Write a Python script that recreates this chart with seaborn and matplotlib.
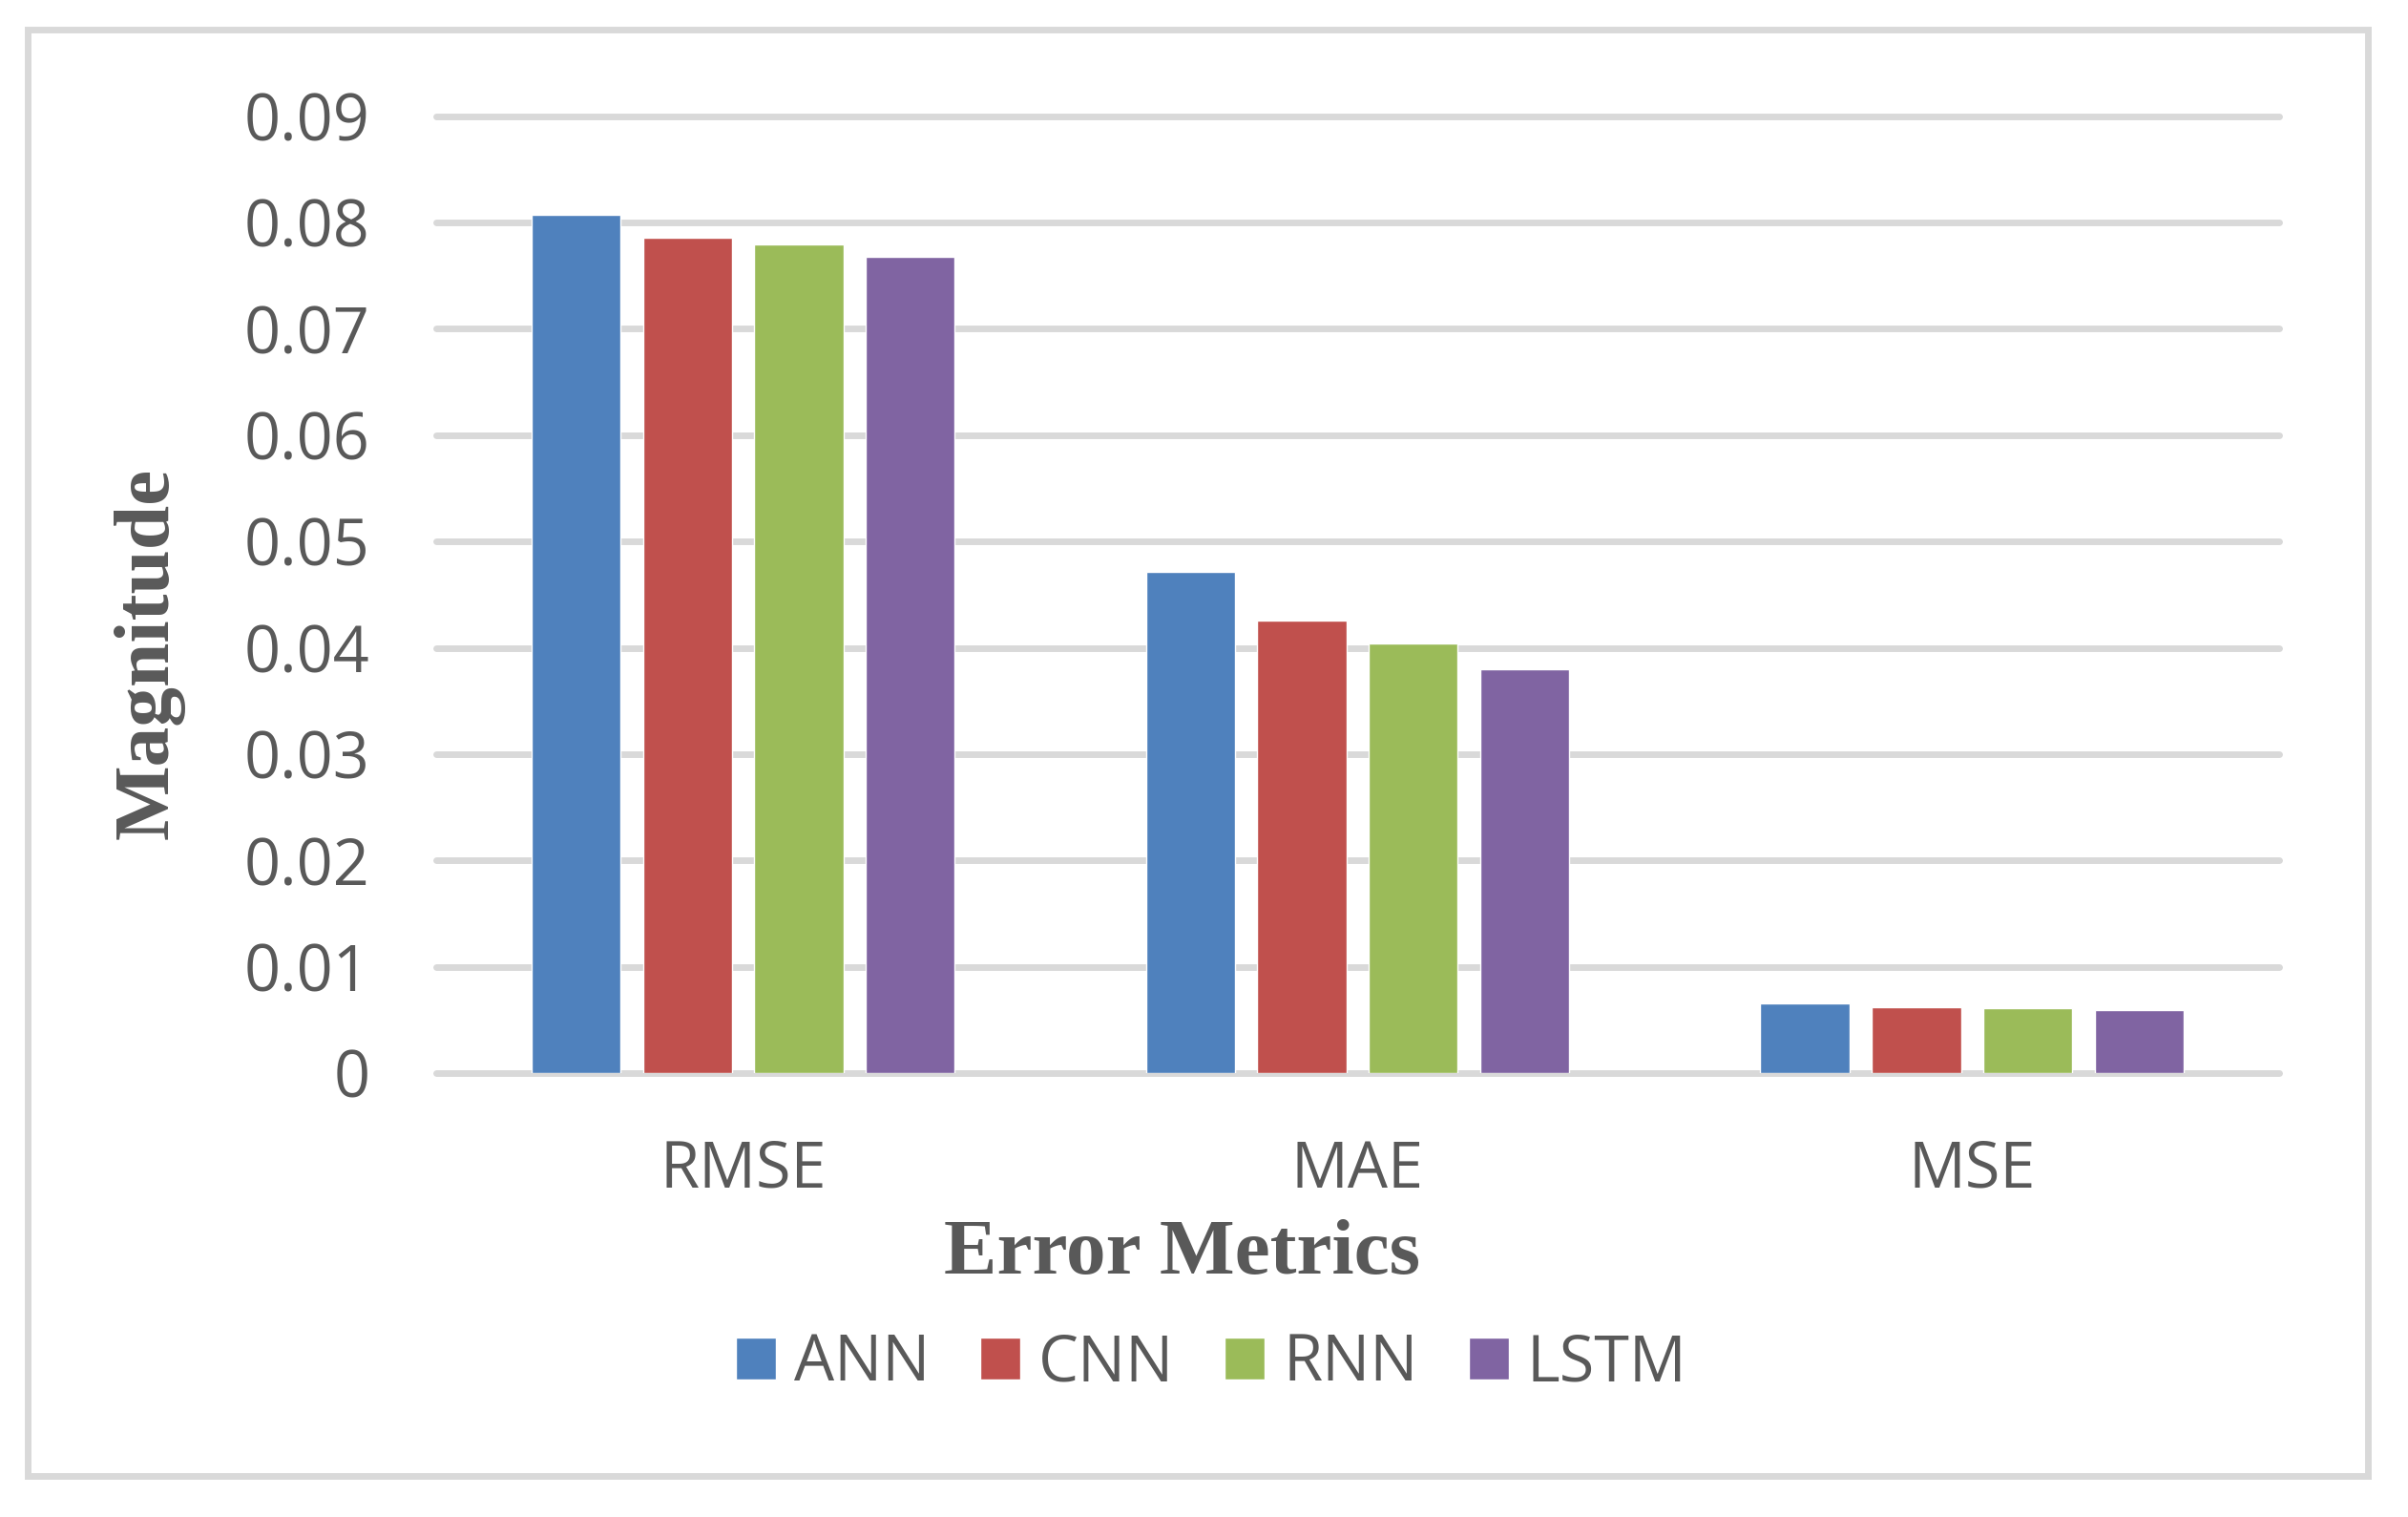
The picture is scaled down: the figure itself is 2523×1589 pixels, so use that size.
#### Error metrics bar chart ####
import pandas as pd
import numpy as np
import matplotlib.pyplot as plt
from matplotlib.patches import FancyBboxPatch
import seaborn as sns

# Data
metrics = ['RMSE', 'MAE', 'MSE']
models = ['ANN', 'CNN', 'RNN', 'LSTM']
ann = [0.0807, 0.0471, 0.0066]
cnn = [0.0786, 0.0426, 0.0062]
rnn = [0.0779, 0.0404, 0.0061]
lstm = [0.0768, 0.0380, 0.0059]
colors = ['#4F81BD', '#C0504D', '#9BBB59', '#8064A2']
yticks = [0, 0.01, 0.02, 0.03, 0.04, 0.05, 0.06, 0.07, 0.08, 0.09]
ytick_labels = ['0', '0.01', '0.02', '0.03', '0.04', '0.05', '0.06', '0.07', '0.08', '0.09']

df = pd.DataFrame({
    'Metric': metrics * 4,
    'Model': np.repeat(models, 3),
    'Value': ann + cnn + rnn + lstm,
})

sns.set_theme(style='white')
plt.rcParams['font.family'] = ['Open Sans', 'DejaVu Sans']

text_grey = '#595959'
grid_grey = '#D9D9D9'

fig = plt.figure(figsize=(25.23, 15.89), dpi=100)
ax = fig.add_axes([0.1811, 0.2926, 0.9465 - 0.1811, 0.9235 - 0.2926])

sns.barplot(data=df, x='Metric', y='Value', hue='Model', order=metrics,
            hue_order=models, palette=colors, width=0.725, gap=0.2,
            saturation=1, errorbar=None, ax=ax, zorder=3)

ax.set_ylim(0, 0.09)
ax.set_yticks(yticks)
ax.set_yticklabels(ytick_labels)
ax.yaxis.grid(True, color=grid_grey, linewidth=5, zorder=0)
for gl in ax.get_ygridlines():
    gl.set_clip_on(False)
ax.set_axisbelow(True)
for s in ax.spines.values():
    s.set_visible(False)
ax.tick_params(axis='y', length=0, pad=50, labelsize=48, labelcolor=text_grey)
ax.tick_params(axis='x', length=0, pad=49, labelsize=48, labelcolor=text_grey)
ax.set_xlabel('')
ax.set_ylabel('')

# Axis titles
fig.text(0.491, 0.173, 'Error Metrics', ha='center', va='center',
         fontsize=60, fontweight='bold', color=text_grey, family='Liberation Serif')
fig.text(0.0618, 0.5695, 'Magnitude', ha='center', va='center', rotation=90,
         fontsize=60, fontweight='bold', color=text_grey, family='Liberation Serif')

# Legend along the bottom
handles, labels = ax.get_legend_handles_labels()
ax.get_legend().remove()
fig.legend(handles, labels, loc='center', bbox_to_anchor=(0.503, 0.101), ncol=4,
           frameon=False, fontsize=48, labelcolor=text_grey,
           handlelength=0.63, handleheight=0.63, handletextpad=0.28,
           columnspacing=0.8)

# Outer chart border
border = FancyBboxPatch((29 / 2523, 1 - 1546 / 1589), (2481 - 29) / 2523, (1546 - 31) / 1589,
                        boxstyle='square,pad=0', transform=fig.transFigure,
                        fill=False, edgecolor=grid_grey, linewidth=5)
fig.patches.append(border)

fig.savefig('out.png', dpi=100, facecolor='white')
